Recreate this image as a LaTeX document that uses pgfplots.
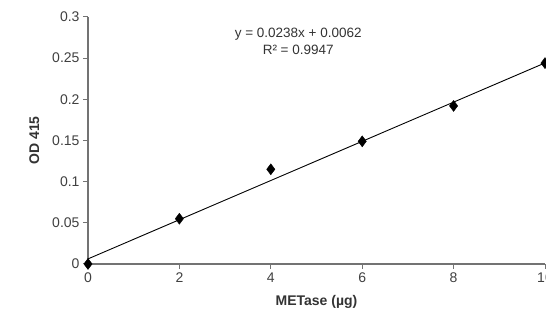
\documentclass[border=0pt]{standalone}
\usepackage{pgfplots}
\pgfplotsset{compat=1.18}
\usepackage{fontspec}
\setmainfont{Liberation Sans}
\begin{document}
\begin{tikzpicture}[x=1pt,y=1pt]
\begin{axis}[
  at={(0,0)}, anchor=south west,
  scale only axis, width=457pt, height=247pt,
  xmin=0, xmax=10, ymin=0, ymax=0.3,
  xtick={0,2,4,6,8,10}, ytick={0,0.05,0.1,0.15,0.2,0.25,0.3},
  yticklabels={0,0.05,0.1,0.15,0.2,0.25,0.3},
  xticklabels={0,2,4,6,8,10},
  axis x line*=bottom, axis y line*=left,
  axis line style={draw=gray!90!black, line width=1.6pt, -},
  tick style={draw=gray!90!black, line width=1pt},
  tick align=outside, major tick length=5pt,
  ticklabel style={font=\fontsize{14}{14}\selectfont, text=black!75},
  xlabel={\textbf{METase (µg)}}, ylabel={\textbf{OD 415}},
  label style={font=\fontsize{14}{14}\selectfont, text=black!80},
  xlabel style={yshift=-6pt}, ylabel style={yshift=6pt},
  clip=false,
]
\addplot[black, line width=0.9pt, no markers] coordinates {(0,0.0062) (10,0.2442)};
\addplot[only marks, mark=diamond*, mark size=5.5pt, black] coordinates {
(0,0) (2,0.055) (4,0.115) (6,0.149) (8,0.192) (10,0.244)};
\node[font=\fontsize{13.5}{17}\selectfont, text=black!80, align=center] at (axis cs:4.6,0.27) {y = 0.0238x + 0.0062\\R² = 0.9947};
\end{axis}
\pgfresetboundingbox
\path (-88pt,-56pt) rectangle (458pt,264pt);
\end{tikzpicture}
\end{document}
